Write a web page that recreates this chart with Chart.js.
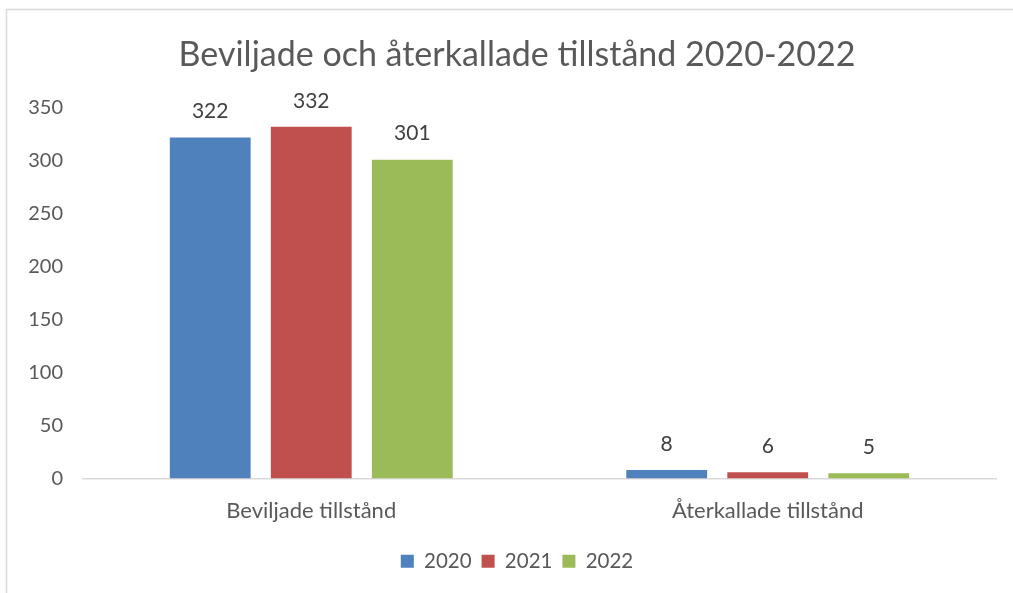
<!DOCTYPE html>
<html>
<head>
<meta charset="utf-8">
<script src="https://cdn.jsdelivr.net/npm/chart.js@4"></script>
<style>
  body { margin: 0; background: #fff; }
  #wrap { width: 1013px; height: 593px; }
</style>
</head>
<body>
<div id="wrap"><canvas id="grafico"></canvas></div>
<script>
const kategorier = ["Beviljade tillstånd", "Återkallade tillstånd"];
const ar = ["2020", "2021", "2022"];
const varden2020 = [322, 8];
const varden2021 = [332, 6];
const varden2022 = [301, 5];
const yTicks = [0, 50, 100, 150, 200, 250, 300, 350];

const farger = ["#4F81BD", "#C0504D", "#9BBB59"];
const typsnitt = "Lato, 'Noto Sans', sans-serif";

// ram runt diagrammet
const ram = {
  id: "ram",
  beforeDraw(chart) {
    const ctx = chart.ctx;
    ctx.save();
    ctx.strokeStyle = "#d9d9d9";
    ctx.lineWidth = 1.5;
    ctx.beginPath();
    ctx.moveTo(6.5, 600);
    ctx.lineTo(6.5, 9.5);
    ctx.lineTo(1020, 9.5);
    ctx.stroke();
    ctx.restore();
  }
};

// y-axelns etiketter, ritade utanför skalans ruta så att de inte klipps
const yEtiketter = {
  id: "yEtiketter",
  afterDraw(chart) {
    const ctx = chart.ctx;
    const y = chart.scales.y;
    ctx.save();
    ctx.font = "20px " + typsnitt;
    ctx.fillStyle = "#595959";
    ctx.textAlign = "right";
    ctx.textBaseline = "middle";
    yTicks.forEach(v => ctx.fillText(v, chart.chartArea.left - 20, y.getPixelForValue(v)));
    ctx.restore();
  }
};

// värden ovanför staplarna
const etiketter = {
  id: "etiketter",
  afterDatasetsDraw(chart) {
    const ctx = chart.ctx;
    ctx.save();
    ctx.font = "21px " + typsnitt;
    ctx.fillStyle = "#404040";
    ctx.textAlign = "center";
    ctx.textBaseline = "middle";
    chart.data.datasets.forEach((ds, i) => {
      chart.getDatasetMeta(i).data.forEach((bar, j) => {
        ctx.fillText(ds.data[j], bar.x, bar.y - 26);
      });
    });
    ctx.restore();
  }
};

new Chart(document.getElementById("grafico"), {
  type: "bar",
  data: {
    labels: kategorier,
    datasets: [
      { label: ar[0], data: varden2020, backgroundColor: farger[0] },
      { label: ar[1], data: varden2021, backgroundColor: farger[1] },
      { label: ar[2], data: varden2022, backgroundColor: farger[2] }
    ]
  },
  options: {
    responsive: true,
    maintainAspectRatio: false,
    animation: false,
    categoryPercentage: 0.664,
    barPercentage: 0.80,
    layout: { padding: { left: 38, right: 17, top: 0, bottom: 11.5 } },
    plugins: {
      tooltip: { enabled: false },
      title: {
        display: true,
        text: "Beviljade och återkallade tillstånd 2020-2022",
        color: "#595959",
        font: { family: typsnitt, size: 34, weight: "normal" },
        padding: { top: 35, bottom: 32 }
      },
      legend: {
        position: "bottom",
        labels: {
          color: "#595959",
          font: { family: typsnitt, size: 20.5 },
          boxWidth: 13,
          boxHeight: 13,
          padding: 10
        }
      }
    },
    scales: {
      x: {
        grid: { display: false, drawTicks: false },
        border: { color: "#d9d9d9", width: 1.5 },
        ticks: { color: "#595959", font: { family: typsnitt, size: 22 }, padding: 19 },
        afterFit: s => { s.height = 62.5; }
      },
      y: {
        min: 0,
        max: 350,
        afterBuildTicks: s => { s.ticks = yTicks.map(v => ({ value: v })); },
        grid: { display: false, drawTicks: false },
        border: { display: false },
        ticks: { display: false },
        afterFit: s => { s.width = 45; }
      }
    }
  },
  plugins: [ram, yEtiketter, etiketter]
});
</script>
</body>
</html>
